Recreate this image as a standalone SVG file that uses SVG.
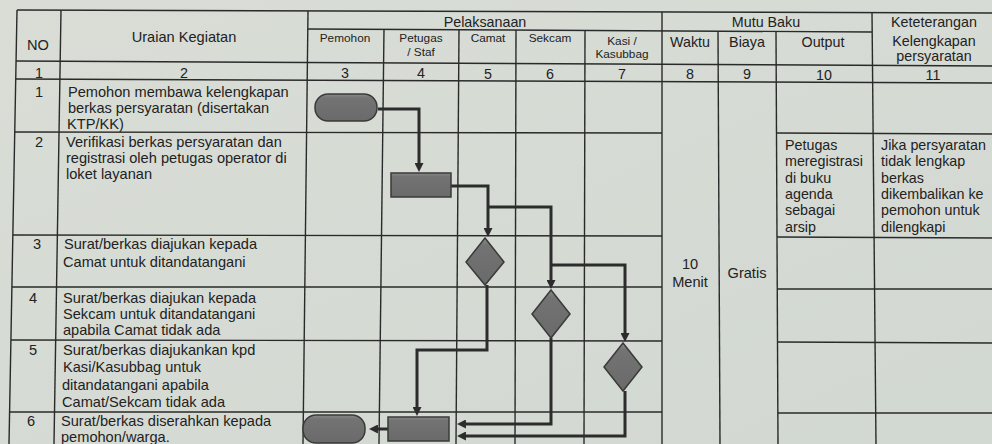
<svg xmlns="http://www.w3.org/2000/svg" width="992" height="444" viewBox="0 0 992 444">
<style>
.g{stroke:#2a2a2a;stroke-width:1.4;fill:none}
.t{font-family:"Liberation Sans",Arial,sans-serif;font-size:14.6px;fill:#222}
.s{font-family:"Liberation Sans",Arial,sans-serif;font-size:11.8px;fill:#222}
.m{font-family:"Liberation Sans",Arial,sans-serif;font-size:14.3px;fill:#222}
.c{text-anchor:middle}
.shape{fill:url(#sh);stroke:#3a3a3a;stroke-width:1.5}
.con{fill:none;stroke:#2c2c2c;stroke-width:3}
</style>
<defs>
<linearGradient id="sh" x1="0" y1="0" x2="0" y2="1">
<stop offset="0" stop-color="#8a8a8a"/>
<stop offset="0.15" stop-color="#737373"/>
<stop offset="1" stop-color="#6a6a6a"/>
</linearGradient>
<linearGradient id="bg" x1="0" y1="0" x2="1" y2="1">
<stop offset="0" stop-color="#d9ddd6"/>
<stop offset="1" stop-color="#d2d8d2"/>
</linearGradient>
<marker id="ah" viewBox="0 0 10 10" refX="4.4" refY="5" markerWidth="9" markerHeight="9" markerUnits="userSpaceOnUse" orient="auto">
<path d="M0,0 L10,5 L0,10 z" fill="#2c2c2c"/>
</marker>
</defs>
<rect x="0" y="0" width="992" height="444" fill="url(#bg)"/>

<g id="grid" class="g">
<line x1="17" y1="10" x2="996" y2="13"/>
<line x1="308" y1="29" x2="872" y2="32"/>
<line x1="16" y1="61" x2="996" y2="66"/>
<line x1="16" y1="79" x2="996" y2="83"/>
<line x1="15" y1="132" x2="662" y2="133"/>
<line x1="777" y1="133" x2="996" y2="134"/>
<line x1="13" y1="235" x2="662" y2="236"/>
<line x1="777" y1="237" x2="996" y2="238"/>
<line x1="12" y1="287" x2="662" y2="287"/>
<line x1="777" y1="289" x2="996" y2="289"/>
<line x1="11" y1="340" x2="662" y2="341"/>
<line x1="778" y1="342" x2="996" y2="343"/>
<line x1="10" y1="412" x2="662" y2="412"/>
<line x1="778" y1="413" x2="996" y2="413"/>
<line x1="17" y1="10" x2="9" y2="444"/>
<line x1="61" y1="10" x2="54" y2="444"/>
<line x1="308" y1="11" x2="303" y2="444"/>
<line x1="384" y1="29" x2="379" y2="444"/>
<line x1="459" y1="29" x2="456" y2="444"/>
<line x1="516" y1="30" x2="515" y2="444"/>
<line x1="585" y1="30" x2="584" y2="444"/>
<line x1="662" y1="12" x2="662" y2="444"/>
<line x1="718" y1="31" x2="720" y2="444"/>
<line x1="776" y1="31" x2="778" y2="444"/>
<line x1="872" y1="12" x2="876" y2="444"/>
</g>

<g id="header">
<text class="t c" x="38" y="50">NO</text>
<text class="t c" x="184" y="42">Uraian Kegiatan</text>
<text class="m c" x="485" y="27">Pelaksanaan</text>
<text class="s c" x="345" y="42">Pemohon</text>
<text class="s c" x="421" y="42">Petugas</text>
<text class="s c" x="421" y="56">/ Staf</text>
<text class="s c" x="488" y="42">Camat</text>
<text class="s c" x="550" y="42">Sekcam</text>
<text class="s c" x="622" y="45">Kasi /</text>
<text class="s c" x="622" y="58">Kasubbag</text>
<text class="m c" x="766" y="27">Mutu Baku</text>
<text class="m c" x="690" y="47">Waktu</text>
<text class="m c" x="747" y="47">Biaya</text>
<text class="m c" x="823" y="47">Output</text>
<text class="m c" x="934" y="27">Keteterangan</text>
<text class="m c" x="934" y="46">Kelengkapan</text>
<text class="m c" x="934" y="61">persyaratan</text>
</g>

<g id="numbers">
<text class="m c" x="39" y="78">1</text>
<text class="m c" x="184" y="78">2</text>
<text class="m c" x="345" y="78">3</text>
<text class="m c" x="421" y="78">4</text>
<text class="m c" x="488" y="79">5</text>
<text class="m c" x="550" y="79">6</text>
<text class="m c" x="622" y="79">7</text>
<text class="m c" x="690" y="79">8</text>
<text class="m c" x="747" y="79">9</text>
<text class="m c" x="824" y="80">10</text>
<text class="m c" x="933" y="80">11</text>
</g>

<g id="rows">
<text class="t c" x="39" y="97">1</text>
<text class="t" x="68" y="97">Pemohon membawa kelengkapan</text>
<text class="t" x="68" y="113">berkas persyaratan (disertakan</text>
<text class="t" x="67" y="129">KTP/KK)</text>
<text class="t c" x="39" y="147">2</text>
<text class="t" x="66" y="147">Verifikasi berkas persyaratan dan</text>
<text class="t" x="66" y="163">registrasi oleh petugas operator di</text>
<text class="t" x="66" y="179">loket layanan</text>
<text class="t c" x="37" y="249">3</text>
<text class="t" x="64" y="249">Surat/berkas diajukan kepada</text>
<text class="t" x="63" y="267">Camat untuk ditandatangani</text>
<text class="t c" x="33" y="303">4</text>
<text class="t" x="63" y="303">Surat/berkas diajukan kepada</text>
<text class="t" x="63" y="319">Sekcam untuk ditandatangani</text>
<text class="t" x="63" y="335">apabila Camat tidak ada</text>
<text class="t c" x="33" y="355">5</text>
<text class="t" x="63" y="355">Surat/berkas diajukankan kpd</text>
<text class="t" x="63" y="372">Kasi/Kasubbag untuk</text>
<text class="t" x="62" y="390">ditandatangani apabila</text>
<text class="t" x="62" y="407">Camat/Sekcam tidak ada</text>
<text class="t c" x="31" y="426">6</text>
<text class="t" x="61" y="426">Surat/berkas diserahkan kepada</text>
<text class="t" x="61" y="442">pemohon/warga.</text>
</g>

<g id="mutu">
<text class="t c" x="690" y="269">10</text>
<text class="t c" x="690" y="287">Menit</text>
<text class="t c" x="747" y="278">Gratis</text>
<text class="m" x="785" y="150">Petugas</text>
<text class="m" x="785" y="166">meregistrasi</text>
<text class="m" x="785" y="183">di buku</text>
<text class="m" x="785" y="199">agenda</text>
<text class="m" x="785" y="215">sebagai</text>
<text class="m" x="785" y="232">arsip</text>
<text class="m" x="881" y="150">Jika persyaratan</text>
<text class="m" x="881" y="166">tidak lengkap</text>
<text class="m" x="881" y="183">berkas</text>
<text class="m" x="881" y="199">dikembalikan ke</text>
<text class="m" x="881" y="215">pemohon untuk</text>
<text class="m" x="881" y="232">dilengkapi</text>
</g>

<g id="connectors">
<path class="con" d="M378,109 H419 V167" marker-end="url(#ah)"/>
<path class="con" d="M451,186 H488 V232" marker-end="url(#ah)"/>
<path class="con" d="M488,207 H551 V284" marker-end="url(#ah)"/>
<path class="con" d="M551,265 H625 V337" marker-end="url(#ah)"/>
<path class="con" d="M487,285 V350 H417 V411" marker-end="url(#ah)"/>
<path class="con" d="M551,338 V424 H462" marker-end="url(#ah)"/>
<path class="con" d="M625,391 V436 H462" marker-end="url(#ah)"/>
<path class="con" d="M389,429 H374" marker-end="url(#ah)"/>
</g>

<g id="n1"><rect class="shape" x="315" y="94" width="62" height="27" rx="13"/></g>
<g id="n2"><rect class="shape" x="391" y="173" width="60" height="24"/></g>
<g id="n3"><path class="shape" d="M485,238 L504,262 L485,285 L466,262 Z"/></g>
<g id="n4"><path class="shape" d="M551,290 L570,314 L551,338 L532,314 Z"/></g>
<g id="n5"><path class="shape" d="M623,343 L642,367 L623,391 L604,367 Z"/></g>
<g id="n6"><rect class="shape" x="388" y="417" width="61" height="24"/></g>
<g id="n7"><rect class="shape" x="303" y="415" width="62" height="28" rx="13"/></g>
</svg>
